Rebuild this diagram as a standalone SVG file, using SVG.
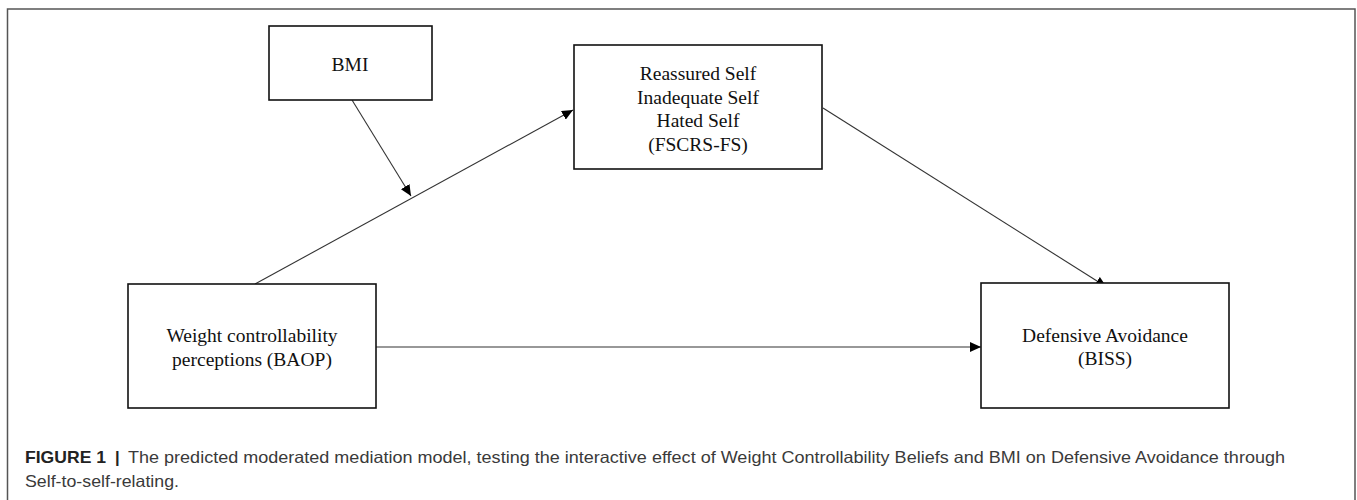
<svg xmlns="http://www.w3.org/2000/svg" width="1357" height="500" viewBox="0 0 1357 500">
  <defs>
    <marker id="arr" markerUnits="userSpaceOnUse" markerWidth="11" markerHeight="10" refX="11" refY="5" orient="auto">
      <path d="M0,0 L11,5 L0,10 Z" fill="#000"/>
    </marker>
    <style>
      .box { fill: #fff; stroke: #111; stroke-width: 1.6; }
      .lbl { font-family: "Liberation Serif", "Times New Roman", serif; font-size: 19.5px; fill: #111; text-anchor: middle; }
      .conn { stroke: #333; stroke-width: 1.1; fill: none; marker-end: url(#arr); }
      .cap { font-family: "Liberation Sans", Arial, sans-serif; font-size: 16.5px; fill: #3a3a3a; }
      .capb { font-family: "Liberation Sans", Arial, sans-serif; font-size: 16.5px; font-weight: bold; fill: #222; }
    </style>
  </defs>
  <rect x="0" y="0" width="1357" height="500" fill="#fff"/>
  <rect x="7.5" y="9" width="1347.5" height="500" fill="none" stroke="#555" stroke-width="1.5"/>

  <g id="connectors">
    <line class="conn" x1="255" y1="284" x2="573" y2="110"/>
    <line class="conn" x1="352" y1="100" x2="411" y2="196"/>
    <line class="conn" x1="823" y1="108" x2="1106.5" y2="287"/>
    <line class="conn" x1="376" y1="347" x2="981" y2="347"/>
  </g>

  <g id="node-bmi">
    <rect class="box" x="269" y="26" width="163" height="74"/>
    <text class="lbl" x="350" y="71">BMI</text>
  </g>

  <g id="node-fscrs">
    <rect class="box" x="574" y="45" width="248" height="124"/>
    <text class="lbl" x="698" y="80">Reassured Self</text>
    <text class="lbl" x="698" y="103.5">Inadequate Self</text>
    <text class="lbl" x="698" y="127">Hated Self</text>
    <text class="lbl" x="698" y="150.5">(FSCRS-FS)</text>
  </g>

  <g id="node-weight">
    <rect class="box" x="128" y="284" width="248" height="124"/>
    <text class="lbl" x="252" y="342">Weight controllability</text>
    <text class="lbl" x="252" y="366">perceptions (BAOP)</text>
  </g>

  <g id="node-defensive">
    <rect class="box" x="981" y="283" width="248" height="125"/>
    <text class="lbl" x="1105" y="342">Defensive Avoidance</text>
    <text class="lbl" x="1105" y="365">(BISS)</text>
  </g>

  <g id="caption">
    <text class="capb" x="25" y="463" textLength="81" lengthAdjust="spacingAndGlyphs">FIGURE 1</text>
    <text class="capb" x="115" y="463">|</text>
    <text class="cap" x="128" y="463" textLength="1157" lengthAdjust="spacingAndGlyphs">The predicted moderated mediation model, testing the interactive effect of Weight Controllability Beliefs and BMI on Defensive Avoidance through</text>
    <text class="cap" x="25" y="487" textLength="154" lengthAdjust="spacingAndGlyphs">Self-to-self-relating.</text>
  </g>
</svg>
